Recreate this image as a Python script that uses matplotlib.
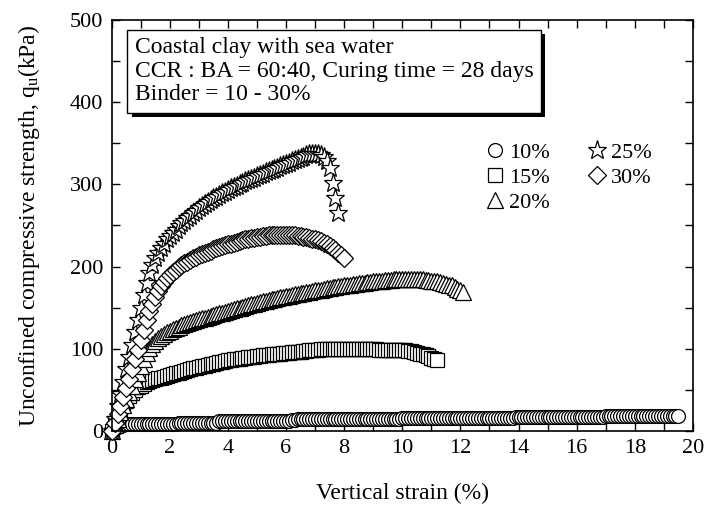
import matplotlib
matplotlib.use("Agg")
import matplotlib.pyplot as plt
import matplotlib.patheffects as pe
from matplotlib.ticker import MultipleLocator

plt.rcParams['font.family'] = ['Liberation Serif', 'DejaVu Serif']
plt.rcParams['mathtext.fontset'] = 'custom'
plt.rcParams['mathtext.rm'] = 'Liberation Serif'
plt.rcParams['mathtext.it'] = 'Liberation Serif:italic'

# strain readings (%), 0.1 % apart, shared by all binder contents
strain = [
    0.0, 0.1, 0.2, 0.3, 0.4, 0.5, 0.6, 0.7, 0.8, 0.9,
    1.0, 1.1, 1.2, 1.3, 1.4, 1.5, 1.6, 1.7, 1.8, 1.9,
    2.0, 2.1, 2.2, 2.3, 2.4, 2.5, 2.6, 2.7, 2.8, 2.9,
    3.0, 3.1, 3.2, 3.3, 3.4, 3.5, 3.6, 3.7, 3.8, 3.9,
    4.0, 4.1, 4.2, 4.3, 4.4, 4.5, 4.6, 4.7, 4.8, 4.9,
    5.0, 5.1, 5.2, 5.3, 5.4, 5.5, 5.6, 5.7, 5.8, 5.9,
    6.0, 6.1, 6.2, 6.3, 6.4, 6.5, 6.6, 6.7, 6.8, 6.9,
    7.0, 7.1, 7.2, 7.3, 7.4, 7.5, 7.6, 7.7, 7.8, 7.9,
    8.0, 8.1, 8.2, 8.3, 8.4, 8.5, 8.6, 8.7, 8.8, 8.9,
    9.0, 9.1, 9.2, 9.3, 9.4, 9.5, 9.6, 9.7, 9.8, 9.9,
    10.0, 10.1, 10.2, 10.3, 10.4, 10.5, 10.6, 10.7, 10.8, 10.9,
    11.0, 11.1, 11.2, 11.3, 11.4, 11.5, 11.6, 11.7, 11.8, 11.9,
    12.0, 12.1, 12.2, 12.3, 12.4, 12.5, 12.6, 12.7, 12.8, 12.9,
    13.0, 13.1, 13.2, 13.3, 13.4, 13.5, 13.6, 13.7, 13.8, 13.9,
    14.0, 14.1, 14.2, 14.3, 14.4, 14.5, 14.6, 14.7, 14.8, 14.9,
    15.0, 15.1, 15.2, 15.3, 15.4, 15.5, 15.6, 15.7, 15.8, 15.9,
    16.0, 16.1, 16.2, 16.3, 16.4, 16.5, 16.6, 16.7, 16.8, 16.9,
    17.0, 17.1, 17.2, 17.3, 17.4, 17.5, 17.6, 17.7, 17.8, 17.9,
    18.0, 18.1, 18.2, 18.3, 18.4, 18.5, 18.6, 18.7, 18.8, 18.9,
    19.0, 19.1, 19.2, 19.3, 19.4, 19.5,
]

# qu (kPa) for each binder content
q10 = [
    0, 3, 5, 6, 7, 8, 8, 8.5, 8.5, 9,
    9, 9, 9, 9, 9, 9, 9, 9, 9, 9,
    9, 9, 9, 9.5, 9.5, 9.5, 9.5, 9.5, 9.5, 9.5,
    9.5, 9.5, 9.5, 10, 10, 10, 10, 12, 12, 12,
    12, 12, 12, 12, 12, 12, 12, 12, 12, 12,
    12.5, 12.5, 12.5, 12.5, 12.5, 12.5, 12.5, 12.5, 12.5, 12.5,
    12.5, 12.5, 13, 13, 15, 15, 15, 15, 15, 15,
    15, 15, 15, 15, 15, 15, 15, 15, 15, 15,
    15, 15, 15, 15, 15, 15, 15, 15, 15, 15,
    15, 15, 15, 15, 15, 15, 15, 15, 15, 15,
    15.5, 15.5, 15.5, 15.5, 15.5, 15.5, 15.5, 15.5, 15.5, 15.5,
    15.5, 15.5, 15.5, 15.5, 15.5, 15.5, 15.5, 15.5, 15.5, 15.5,
    16, 16, 16, 16, 16, 16, 16, 16, 16, 16,
    16, 16, 16, 16, 16, 16, 16, 16, 16, 17.5,
    17.5, 17.5, 17.5, 17.5, 17.5, 17.5, 17.5, 17.5, 17.5, 17.5,
    17.5, 17.5, 17.5, 17.5, 17.5, 17.5, 17.5, 17.5, 17.5, 17.5,
    17.5, 17.5, 17.5, 17.5, 17.5, 17.5, 17.5, 17.5, 17.5, 17.5,
    18, 18, 18, 18, 18, 18, 18, 18, 18, 18,
    18, 18, 18, 18, 18, 18, 18, 18, 18, 18,
    18, 18, 18, 18, 18, 18,
]
q15 = [
    0, 8, 16, 24, 31, 37, 42, 46, 50, 53,
    55, 57, 59, 60.5, 62, 63, 64, 65, 66, 67,
    68, 69, 70, 71, 72, 73, 74, 75, 76, 77,
    78, 78.5, 79, 80, 81, 82, 83, 83.5, 84, 85,
    86, 86.5, 87, 87.5, 88, 88.5, 89, 89.5, 90, 90.5,
    91, 91.5, 92, 92, 92.5, 93, 93, 93.5, 94, 94.5,
    95, 95, 95.5, 96, 96, 96.5, 97, 97.5, 98, 98.5,
    99, 99, 99.5, 99.5, 100, 100, 100, 100, 100, 100,
    100, 100, 100, 100, 100, 99.5, 99.5, 99.5, 99.5, 99.5,
    99.5, 99.5, 99, 99, 99, 99, 99, 98.5, 98.5, 98.5,
    98, 98, 97.5, 97, 96, 95, 94, 93, 92, 91,
    89, 87.5, 86,
]
q20 = [
    0, 7, 15, 23, 31, 39, 47, 55, 63, 71,
    79, 87, 95, 101, 106, 110, 113, 116, 118, 120,
    122, 124, 125.5, 127, 128.5, 130, 131, 132.5, 134, 135,
    136, 137, 138, 139, 140, 141, 142, 143, 144, 145,
    146, 147, 148, 149, 150, 151, 152, 153, 154, 155,
    156, 157, 157.5, 158.5, 159, 160, 161, 161.5, 162.5, 163,
    164, 164.5, 165.5, 166, 167, 167.5, 168, 169, 169.5, 170,
    171, 171.5, 172, 173, 173.5, 174, 175, 175.5, 176, 176.5,
    177, 177.5, 178, 178.5, 179, 179.5, 180, 180.5, 181, 181.5,
    182, 182.5, 183, 183, 183.5, 184, 184, 184.5, 184.5, 185,
    185, 185, 185, 185, 185, 185, 184.5, 184.5, 184, 183.5,
    183, 182.5, 182, 181, 180, 179, 178, 177, 175, 173,
    171, 169,
]
q25 = [
    0, 15, 30, 45, 60, 75, 90, 105, 120, 135,
    150, 165, 180, 192, 202, 210, 217, 223, 228, 233,
    237, 241, 245, 249, 253, 256, 259, 262, 265, 268,
    271, 273.5, 276, 278.5, 281, 283, 285, 287, 289, 291,
    293, 295, 297, 298.5, 300, 302, 303.5, 305, 306.5, 308,
    310, 311.5, 313, 314.5, 316, 317.5, 319, 320.5, 322, 323.5,
    325, 326.5, 328, 329.5, 331, 332, 333, 336, 337, 337.5,
    337.5, 337, 335.5, 333, 328, 320, 302, 283, 265,
]
q30 = [
    0, 10, 20, 30, 41, 52, 63, 75, 87, 99,
    111, 123, 135, 146, 155, 163, 170, 176, 181, 186,
    190, 193, 196, 199, 201.5, 204, 206, 208, 210, 212,
    213.5, 215, 216.5, 218, 219.5, 221, 222, 223.5, 225, 226,
    227, 228, 229, 230, 231, 232, 233, 234, 234.5, 235,
    236, 236.5, 237, 237.5, 238, 238, 238.5, 238.5, 238.5, 238.5,
    238.5, 238.5, 238, 238, 237.5, 237, 236.5, 236, 235, 234,
    233, 232, 230.5, 229, 227, 225, 222.5, 220, 217, 214,
    211,
]

series = [
    ("10%", q10, "o", 10),
    ("15%", q15, "s", 9.5),
    ("20%", q20, "^", 11),
    ("25%", q25, "*", 14),
    ("30%", q30, "D", 9.5),
]

fig = plt.figure(figsize=(7.07, 5.13), dpi=100)
ax = fig.add_axes([0.158, 0.160, 0.822, 0.801])

for label, q, mk, ms in series:
    ax.plot(strain[:len(q)], q, linestyle="none", marker=mk, markersize=ms,
            markerfacecolor="white", markeredgecolor="black",
            markeredgewidth=0.9, label=label, clip_on=False)

ax.set_xlim(0, 20)
ax.set_ylim(0, 500)
ax.xaxis.set_major_locator(MultipleLocator(2))
ax.xaxis.set_minor_locator(MultipleLocator(1))
ax.yaxis.set_major_locator(MultipleLocator(100))
ax.yaxis.set_minor_locator(MultipleLocator(50))
ax.tick_params(which="both", direction="in", top=True, right=True,
               length=6, width=1, labelsize=16, pad=6)
for s in ax.spines.values():
    s.set_linewidth(1.2)

ax.set_xlabel("Vertical strain (%)", fontsize=17, labelpad=18)
ax.set_ylabel(r"Unconfined compressive strength, q$_\mathrm{u}$(kPa)",
              fontsize=17, labelpad=20)

txt = ax.text(0.04, 0.958,
              "Coastal clay with sea water\n"
              "CCR : BA = 60:40, Curing time = 28 days\n"
              "Binder = 10 - 30%",
              transform=ax.transAxes, va="top", ha="left", fontsize=17,
              linespacing=1.15, zorder=5,
              bbox=dict(boxstyle="square,pad=0.32", facecolor="white",
                        edgecolor="black", linewidth=1))
txt.get_bbox_patch().set_path_effects([
    pe.SimplePatchShadow(offset=(3, -3), shadow_rgbFace="black", alpha=1),
    pe.Normal()])

ax.legend(ncol=2, loc="upper left", bbox_to_anchor=(0.615, 0.74),
          frameon=False, fontsize=16, handlelength=0.9, handletextpad=0.2,
          columnspacing=1.65, labelspacing=0.2, borderpad=0.2)

plt.savefig("out.png", dpi=100)
